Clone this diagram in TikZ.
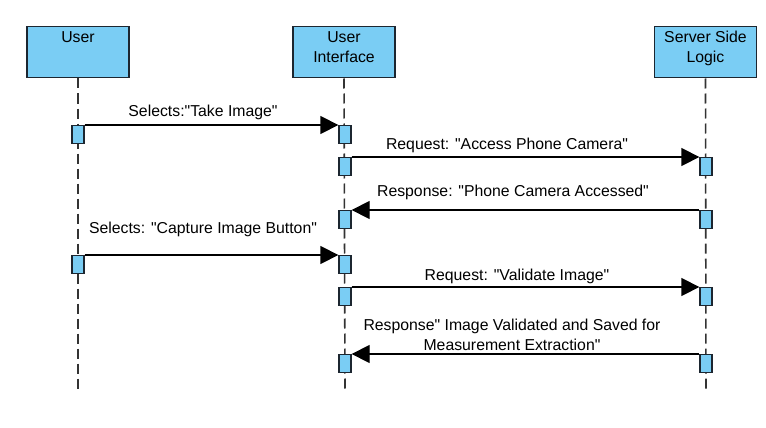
\documentclass[tikz,border=0pt]{standalone}
\usepackage{fontspec}
\setmainfont{Liberation Sans}[Ligatures=TeXOff]
\usetikzlibrary{arrows.meta}
\definecolor{boxblue}{HTML}{7ACDF4}
\definecolor{boxline}{HTML}{1C2630}
\begin{document}
\begin{tikzpicture}[x=1pt, y=-1pt,
  every node/.style = {font=\fontsize{15.8}{20}\selectfont},
  actor/.style = {draw=boxline, line width=1.5pt, fill=boxblue,
    minimum width=102pt, minimum height=51pt, anchor=north, inner sep=0pt},
  act/.style = {draw=boxline, line width=1.3pt, fill=boxblue,
    minimum width=12pt, minimum height=18pt, anchor=north, inner sep=0pt},
  lifeline/.style = {draw=black!80, line width=1.6pt, dash pattern=on 10pt off 5pt},
  msg/.style = {draw=black, line width=1.3pt, -{Triangle[length=18pt, width=18pt]}},
  msgtext/.style = {inner sep=0pt, anchor=base, align=center}]
  \fill[white] (0,0) rectangle (766,428);
  \useasboundingbox (0,0) rectangle (766,428);
  % participants
  \node[actor, label={[anchor=north, inner sep=0pt, yshift=-5pt, align=center]north:User}]
    (user) at (78,26) {};
  \node[actor, label={[anchor=north, inner sep=0pt, yshift=-5pt, align=center]north:User\\Interface}]
    (ui) at (344,26) {};
  \node[actor, label={[anchor=north, inner sep=0pt, yshift=-5pt, align=center]north:Server Side\\Logic}]
    (server) at (705.5,26) {};
  \coordinate (userend) at (78,391);
  \coordinate (uiend) at (345,391);
  \coordinate (serverend) at (706,391);
  \draw[lifeline] (user.south) -- (userend);
  \draw[lifeline] (ui.south) -- (uiend);
  \draw[lifeline] (server.south) -- (serverend);
  % activations
  \node[act] (ua1) at (78,125) {};
  \node[act] (ia1) at (345,125) {};
  \node[act] (ia2) at (345,157) {};
  \node[act] (sa2) at (706,157) {};
  \node[act] (ia3) at (345,210) {};
  \node[act] (sa3) at (706,210) {};
  \node[act] (ua4) at (78,255) {};
  \node[act] (ia4) at (345,255) {};
  \node[act] (ia5) at (345,287) {};
  \node[act] (sa5) at (706,287) {};
  \node[act] (ia6) at (345,354) {};
  \node[act] (sa6) at (706,354) {};
  % messages
  \draw[msg] (ua1.north east) -- (ia1.north west);
  \draw[msg] (ia2.north east) -- (sa2.north west);
  \draw[msg] (sa3.north west) -- (ia3.north east);
  \draw[msg] (ua4.north east) -- (ia4.north west);
  \draw[msg] (ia5.north east) -- (sa5.north west);
  \draw[msg] (sa6.north west) -- (ia6.north east);
  \node[msgtext] (t1) at (203,116.5) {Selects:"Take Image"};
  \node[msgtext] (t2) at (507,149) {Request: "Access Phone Camera"};
  \node[msgtext] (t3) at (513,196) {Response: "Phone Camera Accessed"};
  \node[msgtext] (t4) at (203,233) {Selects: "Capture Image Button"};
  \node[msgtext] (t5) at (517,280.5) {Request: "Validate Image"};
  \node[msgtext, anchor=south, text depth=0pt] (t6) at (512,351)
    {Response" Image Validated and Saved for\\Measurement Extraction"};
\end{tikzpicture}
\end{document}
